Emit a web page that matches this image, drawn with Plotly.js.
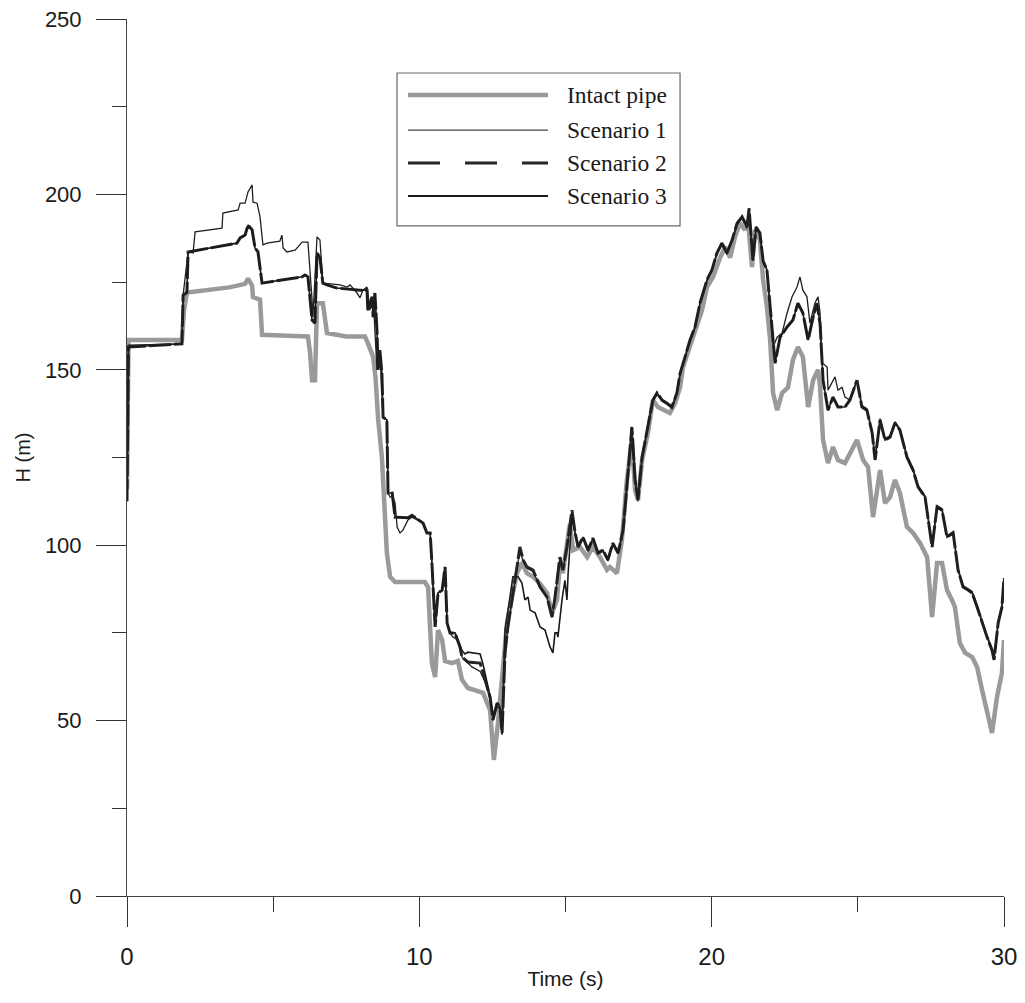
<!DOCTYPE html>
<html>
<head>
<meta charset="utf-8">
<script src="https://cdn.plot.ly/plotly-3.0.1.min.js"></script>
<style>html,body{margin:0;padding:0;background:#fff;}#chart{width:1025px;height:1003px;}</style>
</head>
<body>
<div id="chart"></div>
<script>
// Time (s) and head H (m)
const intactT = [0,0.05,1.88,1.95,2.05,3.5,4.04,4.14,4.28,4.31,4.55,4.62,5.5,6.19,6.26,6.33,6.43,6.50,6.70,6.84,7.5,8.14,8.24,8.42,8.50,8.59,8.72,8.76,8.89,9.0,9.17,10.19,10.30,10.43,10.54,10.64,10.78,10.88,11.12,11.32,11.46,11.66,12.18,12.42,12.55,12.69,12.86,13.00,13.17,13.34,13.51,13.68,13.89,14.13,14.37,14.54,14.71,14.81,14.91,15.05,15.15,15.26,15.50,15.74,15.94,16.18,16.42,16.52,16.76,16.93,17.10,17.27,17.38,17.48,17.62,17.82,17.99,18.16,18.40,18.57,18.75,18.92,19.02,19.19,19.36,19.50,19.67,19.84,20.05,20.29,20.46,20.63,20.80,20.97,21.14,21.24,21.38,21.48,21.65,21.76,21.89,22.00,22.10,22.24,22.41,22.61,22.78,22.95,23.12,23.30,23.47,23.64,23.71,23.81,23.98,24.15,24.32,24.56,24.73,24.97,25.18,25.35,25.52,25.76,25.93,26.10,26.27,26.44,26.68,26.89,27.13,27.37,27.54,27.71,27.88,28.05,28.22,28.32,28.49,28.67,28.91,29.08,29.25,29.42,29.59,29.76,29.93,30.0];
const intactH = [116,158.5,158.5,167,172,173.5,174.5,176,174,170.7,170,160,159.7,159.5,155,147,147,169,169,160.5,159.5,159.5,157.6,153.7,148,136,125,118.6,97.8,91,89.5,89.5,88,66.4,62.4,75.8,73,67,66.4,67,61.6,59.3,57.9,53,38.8,49.3,66.4,77.8,85.2,92,95,92,91,89,86.4,80.7,84.4,95,92,100.6,106,98.6,99.5,96.6,99.5,96.6,93,93.8,92,101.5,118.6,130,115.7,112.9,124.3,132,141.4,139.4,138.5,137.7,140.5,145,150.8,154.8,159.3,162.2,167,173.6,176.5,182,185,182,187.9,191.8,189.9,192.7,179.3,189.9,187,175.6,168,158.5,143.4,138.5,143.4,145,152.8,156.5,153.7,139.4,147,150,145,130,123.4,128,124.3,123.4,126.3,130,124.3,122.3,108,121.4,112,113.7,118.6,114.9,105.2,103.5,100.6,96.6,79.5,94.9,94.9,87.2,84.4,82.4,72.1,69.3,68.1,65.3,58.7,53,46.5,56.7,63.6,73];

const scen1T = [0,0.05,1.88,1.92,2.09,2.26,2.33,3.25,3.28,3.80,3.87,4.04,4.14,4.28,4.31,4.45,4.55,4.65,4.79,5.23,5.30,5.34,5.47,5.75,5.99,6.19,6.33,6.36,6.50,6.60,6.70,7.29,7.53,7.63,7.87,7.97,8.07,8.21,8.31,8.42,8.55,8.65,8.76,8.89,8.93,9.00,9.10,9.17,9.24,9.34,9.44,9.61,9.75,10.13,10.26,10.37,10.43,10.54,10.64,10.78,10.88,10.95,11.05,11.15,11.32,11.46,11.66,11.80,12.08,12.25,12.42,12.52,12.66,12.76,12.83,12.93,13.03,13.17,13.34,13.44,13.55,13.68,13.89,14.13,14.37,14.54,14.64,14.81,14.91,15.05,15.22,15.33,15.43,15.60,15.77,15.94,16.11,16.28,16.45,16.62,16.80,16.97,17.14,17.27,17.38,17.48,17.62,17.82,17.99,18.13,18.30,18.47,18.64,18.81,18.92,19.09,19.26,19.43,19.60,19.84,20.01,20.18,20.35,20.52,20.70,20.87,21.04,21.21,21.28,21.41,21.52,21.65,21.76,21.89,22.03,22.10,22.24,22.41,22.58,22.75,22.92,23.02,23.12,23.26,23.36,23.53,23.64,23.71,23.77,23.95,23.98,24.12,24.22,24.32,24.46,24.56,24.73,24.97,25.14,25.31,25.49,25.59,25.76,25.93,26.10,26.27,26.44,26.68,26.89,27.06,27.30,27.54,27.71,27.88,28.05,28.26,28.43,28.60,28.77,28.91,29.08,29.25,29.42,29.59,29.66,29.80,29.93,30.0];
const scen1H = [112.5,157,157.4,171.3,183.6,183.3,189.3,190.4,194.7,195.6,197.5,197.5,200.7,202.7,197.8,197.5,193.6,185.6,186.1,186.7,188.4,184.7,183.6,184.1,186.4,186.4,170,165,187.9,187,174.7,174.2,173.6,174.2,171.9,170.5,172.7,173.6,167,170.8,150,155,136.5,135.7,114.9,113.7,113.7,112,105.2,103.5,104.3,107.2,108,106.3,103.5,103.5,95,76.7,86.4,87.2,93.8,77.8,75,73.8,73,68.1,66.4,65.3,64,61,56,50,54,53.5,47,69,76.7,84.4,93,98.5,95.5,93.5,92.5,88,85,79.5,85,96.6,92.9,99.5,109,103,99.5,102,98.2,101.5,97.5,98.2,95.5,100.2,97.5,104,120,133.2,118.2,112.5,124.8,133.2,141,143,141,140.2,139,143,148.6,153.3,158.1,161.8,168.6,175.2,178.1,182.9,185.7,182.9,186.6,191.4,193.2,190.3,195.6,181,190.3,188.6,181,178.5,164.2,156.5,159.3,160.5,166.2,170.8,173.6,176.5,172.7,170.8,163.3,169,170.8,166,152,150.8,144.2,146.2,148,144.2,145,142.2,141.4,147,139.8,138.9,132.4,124.7,136.1,130.4,131.2,135.2,133.2,125.5,121.8,117,114.1,99.9,111.3,110.4,102.7,103.9,93.3,88.5,87.6,86.8,82.8,78.2,74.2,70.5,67.7,78.2,82.8,90.6];

const scen2T = [0,0.05,1.88,1.92,2.05,2.09,3.76,3.87,4.04,4.14,4.28,4.38,4.48,4.62,5.99,6.09,6.19,6.33,6.43,6.50,6.60,6.70,6.84,7.18,7.97,8.21,8.24,8.38,8.42,8.48,8.55,8.59,8.65,8.72,8.76,8.89,8.93,9.07,9.17,9.61,9.75,10.13,10.26,10.37,10.43,10.54,10.64,10.78,10.88,10.95,11.05,11.22,11.39,11.46,11.66,12.08,12.25,12.42,12.52,12.66,12.76,12.83,12.93,13.03,13.17,13.34,13.44,13.55,13.68,13.89,14.13,14.37,14.54,14.64,14.81,14.91,15.05,15.22,15.33,15.43,15.60,15.77,15.94,16.11,16.28,16.45,16.62,16.80,16.97,17.14,17.27,17.38,17.48,17.62,17.82,17.99,18.13,18.30,18.47,18.64,18.81,18.92,19.09,19.26,19.43,19.60,19.84,20.01,20.18,20.35,20.52,20.70,20.87,21.04,21.21,21.28,21.41,21.52,21.65,21.76,21.89,22.03,22.17,22.34,22.58,22.78,22.95,23.12,23.30,23.47,23.60,23.71,23.81,23.98,24.15,24.32,24.56,24.73,24.97,25.14,25.31,25.49,25.59,25.76,25.93,26.10,26.27,26.44,26.68,26.89,27.06,27.30,27.54,27.71,27.88,28.05,28.26,28.43,28.60,28.77,28.91,29.08,29.25,29.42,29.59,29.66,29.80,29.93,30.0];
const scen2H = [112.5,156.5,157.4,171.3,172,183.6,186.1,187.6,188.4,191.3,189.9,184.7,183.6,174.7,176.5,177,176.5,164.2,163.3,183.3,182,174.7,174.2,173.3,172.7,172.7,167,170.8,165,171.9,161.3,150,155.6,149,136.5,135.7,114.9,114.9,108,107.8,108.5,106.3,103.5,103.5,95,76.7,86.4,87.2,93.8,77.8,75,75,71,68.1,66.7,66.4,61.6,56.7,50.2,55,53.9,46.5,69.3,76.7,84.4,93.8,99.5,95.8,93.8,92.9,88.1,85.2,79.5,85.2,96.6,92.9,99.5,110,103.5,99.5,102.3,98.6,102,97.8,98.6,95.8,100.6,97.8,104.3,120.6,133.7,118.6,112.9,125.1,133.7,141.4,143.4,141.4,140.5,139.4,143.4,149,153.7,158.5,162.2,169,175.6,178.5,183.3,186.1,183.3,187,191.8,193.6,190.7,196,181.3,190.7,189,181,178.5,164.2,151.9,159.3,162.2,164.2,169,166.2,158.5,165,169,163,147,138.5,142.2,139.4,139.4,141.4,147,139.4,138.5,132,124.3,135.7,130,130.8,134.8,132.8,125.1,121.4,116.6,113.7,99.5,110.9,110,102.3,103.5,92.9,88.1,87.2,86.4,82.4,77.8,73.8,70.1,67.3,77.8,82.4,90.6];

const scen3T = [0,0.05,1.88,1.92,2.05,2.09,3.76,3.87,4.04,4.14,4.28,4.38,4.48,4.62,5.99,6.09,6.19,6.33,6.43,6.50,6.60,6.70,6.84,7.18,7.97,8.21,8.24,8.38,8.42,8.48,8.55,8.59,8.65,8.72,8.76,8.89,8.93,9.07,9.17,9.61,9.75,10.13,10.26,10.37,10.43,10.54,10.64,10.78,10.88,10.95,11.05,11.22,11.39,11.46,11.56,11.66,12.08,12.18,12.42,12.52,12.66,12.76,12.83,12.93,13.10,13.20,13.38,13.51,13.61,13.72,13.79,13.96,14.13,14.30,14.47,14.57,14.64,14.71,14.74,14.88,14.98,15.05,15.09,15.22,15.33,15.43,15.60,15.77,15.94,16.11,16.28,16.45,16.62,16.80,16.97,17.14,17.27,17.38,17.48,17.62,17.82,17.99,18.13,18.30,18.47,18.64,18.81,18.92,19.09,19.26,19.43,19.60,19.84,20.01,20.18,20.35,20.52,20.70,20.87,21.04,21.21,21.28,21.41,21.52,21.65,21.76,21.89,22.03,22.17,22.34,22.58,22.78,22.95,23.12,23.30,23.47,23.60,23.71,23.81,23.98,24.15,24.32,24.56,24.73,24.97,25.14,25.31,25.49,25.59,25.76,25.93,26.10,26.27,26.44,26.68,26.89,27.06,27.30,27.54,27.71,27.88,28.05,28.26,28.43,28.60,28.77,28.91,29.08,29.25,29.42,29.59,29.66,29.80,29.93,30.0];
const scen3H = [112.5,156.5,157.4,171.3,172,183.6,186.1,187.6,188.4,191.3,189.9,184.7,183.6,174.7,176.5,177,176.5,164.2,163.3,183.3,182,174.7,174.2,173.3,172.7,172.7,167,170.8,165,171.9,161.3,150,155.6,149,136.5,135.7,114.9,114.9,108,107.8,108.5,106.3,103.5,103.5,95,76.7,86.4,87.2,93.8,77.8,75,75,71.5,70,69,69.5,69,66,57,51,55,54,46,75.8,85.2,91,91,89.2,84.4,85.2,81.5,80.7,76.7,75.8,71,69.3,75,75,73.8,84.4,90,84.4,92,108,103.5,99.5,102.3,98.6,102,97.8,98.6,95.8,100.6,97.8,104.3,120.6,133.7,118.6,112.9,125.1,133.7,141.4,143.4,141.4,140.5,139.4,143.4,149,153.7,158.5,162.2,169,175.6,178.5,183.3,186.1,183.3,187,191.8,193.6,190.7,196,181.3,190.7,189,181,178.5,164.2,151.9,159.3,162.2,164.2,169,166.2,158.5,165,169,163,147,138.5,142.2,139.4,139.4,141.4,147,139.4,138.5,132,124.3,135.7,130,130.8,134.8,132.8,125.1,121.4,116.6,113.7,99.5,110.9,110,102.3,103.5,92.9,88.1,87.2,86.4,82.4,77.8,73.8,70.1,67.3,77.8,82.4,90.6];

const seriesNames = ['Intact pipe','Scenario 1','Scenario 2','Scenario 3'];
const xTickVals = [0,10,20,30];
const yTickVals = [0,50,100,150,200,250];

const traces = [
  {x: intactT, y: intactH, name: seriesNames[0], mode:'lines', line:{color:'#9a9a9a', width:4.5}},
  {x: scen2T, y: scen2H, name: seriesNames[2], mode:'lines', line:{color:'#262626', width:3, dash:'22px,3px'}},
  {x: scen3T, y: scen3H, name: seriesNames[3], mode:'lines', line:{color:'#1a1a1a', width:1.6}},
  {x: scen1T, y: scen1H, name: seriesNames[1], mode:'lines', line:{color:'#202020', width:1.3}}
];

// custom legend (box with long sample lines), in paper coordinates
const lgX0 = 0.3204, lgX1 = 0.4801, lgTextX = 0.4994;
const lgRows = [0.9134, 0.8734, 0.8358, 0.7982];
const lgStyles = [
  {color:'#9a9a9a', width:4.5, dash:'solid'},
  {color:'#444', width:1.2, dash:'solid'},
  {color:'#262626', width:3, dash:'32px,25px'},
  {color:'#1a1a1a', width:1.8, dash:'solid'}
];
const shapes = [{type:'rect', xref:'paper', yref:'paper', x0:0.3079, x1:0.6306, y0:0.764, y1:0.9384,
  line:{color:'#6a6470', width:1.2}, fillcolor:'#ffffff', layer:'above'}];
const annotations = [];
lgRows.forEach((yy, i) => {
  shapes.push({type:'line', xref:'paper', yref:'paper', x0:lgX0, x1:lgX1, y0:yy, y1:yy, line:lgStyles[i], layer:'above'});
  annotations.push({xref:'paper', yref:'paper', x:lgTextX, y:yy, xanchor:'left', yanchor:'middle', showarrow:false,
    text: seriesNames[i], font:{family:'Liberation Serif, Times New Roman, serif', size:23.5, color:'#1a1a1a'}});
});

const axisFont = {family:'Liberation Sans, Arial, sans-serif', size:22, color:'#1a1a1a'};
const layout = {
  width:1025, height:1003,
  margin:{l:127, r:21, t:19, b:107},
  paper_bgcolor:'#ffffff', plot_bgcolor:'#ffffff',
  showlegend:false,
  xaxis:{range:[0,30], tickvals:xTickVals, ticks:'outside', ticklen:30, tickcolor:'#333', tickwidth:1,
    showline:true, linecolor:'#444', linewidth:1, showgrid:false, zeroline:false,
    minor:{tickvals:[5,15,25], ticks:'outside', ticklen:15, tickcolor:'#333', tickwidth:1, showgrid:false},
    tickfont:{family:'Liberation Sans, Arial, sans-serif', size:24, color:'#1a1a1a'}, ticklabelstandoff:9,
    title:{text:'Time (s)', font:{family:'Liberation Sans, Arial, sans-serif', size:21, color:'#1a1a1a'}, standoff:2}},
  yaxis:{range:[0,250], tickvals:yTickVals, ticks:'outside', ticklen:30, tickcolor:'#333', tickwidth:1,
    showline:true, linecolor:'#444', linewidth:1, showgrid:false, zeroline:false,
    minor:{tickvals:[25,75,125,175,225], ticks:'outside', ticklen:14, tickcolor:'#333', tickwidth:1, showgrid:false},
    tickfont:axisFont, ticklabelstandoff:10,
    title:{text:'H (m)', font:{family:'Liberation Sans, Arial, sans-serif', size:20, color:'#1a1a1a'}, standoff:8}},
  shapes: shapes,
  annotations: annotations
};
Plotly.newPlot('chart', traces, layout, {staticPlot:true, displayModeBar:false});
</script>
</body>
</html>
